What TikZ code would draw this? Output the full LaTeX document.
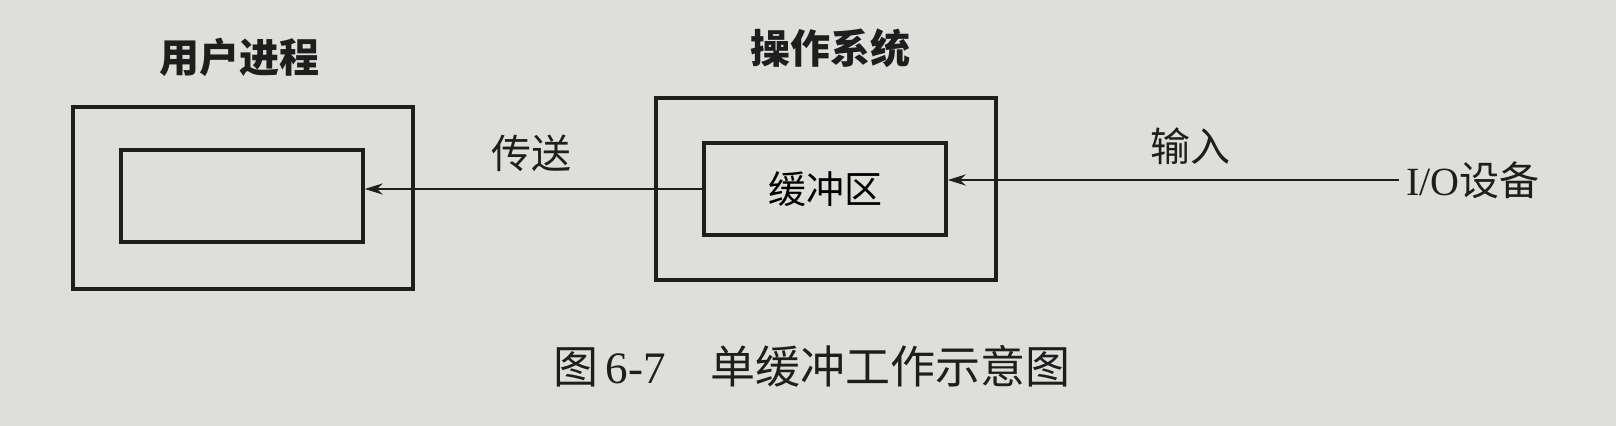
\documentclass[tikz,border=0pt]{standalone}
\usepackage{fontspec}
\setmainfont{Liberation Serif}
\newfontfamily\cjk{Noto Sans CJK SC}
\usetikzlibrary{arrows.meta}
\definecolor{paper}{RGB}{222,222,219}
\definecolor{ink}{RGB}{30,30,30}
\tikzset{
  outerbox/.style={draw=ink, line width=1.7pt, inner sep=0pt, minimum width=170pt, minimum height=91pt},
  innerbox/.style={draw=ink, line width=1.7pt, inner sep=0pt, minimum width=121pt, minimum height=46pt},
  lbl/.style={text=ink, font=\fontsize{20}{24}\selectfont\cjk},
  flow/.style={draw=ink, line width=1.3pt, -{Stealth[length=9pt,width=5.5pt]}}
}
\begin{document}
\begin{tikzpicture}[x=0.5pt,y=-0.5pt]
  \fill[paper] (0,0) rectangle (1616,426);
  \useasboundingbox (0,0) rectangle (1616,426);

  \node[outerbox] (userbox) at (243,198) {};
  \node[innerbox] (userinner) at (242,196) {};
  \node[outerbox] (osbox) at (826,189) {};
  \node[innerbox] (buffer) at (825,189) {\fontsize{19}{23}\selectfont\cjk 缓冲区};
  \node[lbl, anchor=west] (iodev) at (1399,180) {\rmfamily I/O\cjk 设备};

  \node[lbl, font=\fontsize{20}{24}\selectfont\cjk\bfseries] (usertitle) at (239,57) {用户进程};
  \node[lbl, font=\fontsize{20}{24}\selectfont\cjk\bfseries] (ostitle) at (830,48) {操作系统};
  \node[lbl] (sendlbl) at (531,153) {传送};
  \node[lbl] (inlbl) at (1190,146) {输入};

  \draw[flow] (iodev.west) -- (iodev.west -| buffer.east);
  \draw[flow] (buffer.west) -- (buffer.west -| userinner.east);

  \node[text=ink, font=\fontsize{22.5}{27}\selectfont] (caption) at (812,366)
    {{\cjk 图}\,6-7\quad{\cjk 单缓冲工作示意图}};
\end{tikzpicture}
\end{document}
